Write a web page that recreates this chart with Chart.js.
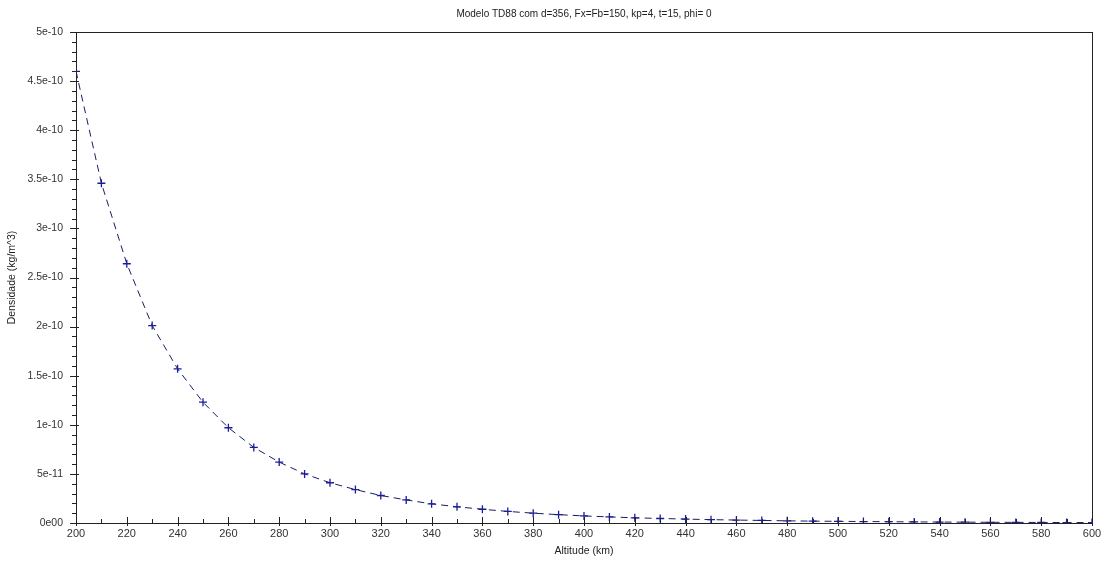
<!DOCTYPE html>
<html>
<head>
<meta charset="utf-8">
<script src="https://cdn.jsdelivr.net/npm/chart.js@4.4.1/dist/chart.umd.min.js"></script>
<style>
html,body{margin:0;padding:0;background:#fff;}
#wrap{width:1106px;height:563px;position:relative;}
</style>
</head>
<body>
<div id="wrap"><canvas id="c" width="1106" height="563"></canvas></div>
<script>
const chartTitle = "Modelo TD88 com d=356, Fx=Fb=150, kp=4, t=15, phi= 0";
const xTitle = "Altitude (km)";
const yTitle = "Densidade (kg/m^3)";
const altitudes = [200,210,220,230,240,250,260,270,280,290,300,310,320,330,340,350,360,370,380,390,400,410,420,430,440,450,460,470,480,490,500,510,520,530,540,550,560,570,580,590,600];
const densities = [4.60e-10,3.46e-10,2.64e-10,2.01e-10,1.57e-10,1.23e-10,0.97e-10,0.77e-10,0.62e-10,0.50e-10,0.41e-10,0.34e-10,0.28e-10,0.235e-10,0.195e-10,0.165e-10,0.14e-10,0.118e-10,0.10e-10,0.085e-10,0.072e-10,0.062e-10,0.053e-10,0.046e-10,0.040e-10,0.034e-10,0.030e-10,0.026e-10,0.022e-10,0.019e-10,0.017e-10,0.015e-10,0.013e-10,0.011e-10,0.0095e-10,0.0083e-10,0.0072e-10,0.0063e-10,0.0055e-10,0.0048e-10,0.0042e-10];
const yTickLabels = ["0e00","5e-11","1e-10","1.5e-10","2e-10","2.5e-10","3e-10","3.5e-10","4e-10","4.5e-10","5e-10"];
const xTickLabels = ["200","220","240","260","280","300","320","340","360","380","400","420","440","460","480","500","520","540","560","580","600"];

const FONT = "'Liberation Sans', Arial, sans-serif";

const framePlugin = {
  id: 'frame',
  afterDraw(chart) {
    const ctx = chart.ctx, a = chart.chartArea;
    const xs = chart.scales.x, ys = chart.scales.y;
    ctx.save();
    ctx.strokeStyle = '#222';
    ctx.lineWidth = 1;
    ctx.strokeRect(Math.round(a.left)+0.5, Math.round(a.top)+0.5, Math.round(a.right-a.left), Math.round(a.bottom-a.top));
    ctx.beginPath();
    for (let v = 200; v <= 600; v += 10) {
      const px = Math.round(xs.getPixelForValue(v)) + 0.5;
      const major = (v % 20 === 0);
      ctx.moveTo(px, Math.round(a.bottom) + (major ? 3 : 0));
      ctx.lineTo(px, Math.round(a.bottom) - (major ? 6 : 4));
    }
    for (let i = 0; i <= 50; i++) {
      const py = Math.round(ys.getPixelForValue(i * 1e-11)) + 0.5;
      const major = (i % 5 === 0);
      ctx.moveTo(Math.round(a.left) - (major ? 6 : 4), py);
      ctx.lineTo(Math.round(a.left) + (major ? 3 : 0), py);
    }
    ctx.stroke();
    ctx.fillStyle = '#222';
    ctx.textAlign = 'center';
    ctx.textBaseline = 'middle';
    ctx.font = '10px ' + FONT;
    ctx.fillText(chartTitle, (a.left + a.right) / 2, 14);
    ctx.font = '10.5px ' + FONT;
    ctx.fillText(xTitle, (a.left + a.right) / 2, 551);
    ctx.translate(12, (a.top + a.bottom) / 2);
    ctx.rotate(-Math.PI / 2);
    ctx.fillText(yTitle, 0, 0);
    ctx.restore();
  }
};

new Chart(document.getElementById('c'), {
  type: 'line',
  data: {
    datasets: [{
      data: altitudes.map((x, i) => ({x: x, y: densities[i]})),
      borderColor: '#1a1a66',
      borderWidth: 1,
      borderDash: [7, 5],
      pointStyle: 'cross',
      pointRadius: 4,
      pointBorderColor: '#1c1c9a',
      pointBorderWidth: 1.3,
      pointBackgroundColor: '#1c1c9a',
      tension: 0,
      fill: false
    }]
  },
  options: {
    responsive: false,
    animation: false,
    devicePixelRatio: 1,
    layout: { padding: { top: 32, right: 14, left: 0, bottom: 0 } },
    plugins: { legend: { display: false }, tooltip: { enabled: false }, title: { display: false } },
    scales: {
      x: {
        type: 'linear', min: 200, max: 600,
        afterFit(s) { s.height = 40; },
        grid: { display: false, drawTicks: false },
        border: { display: false },
        ticks: {
          stepSize: 20, padding: 4, color: '#333', maxRotation: 0, autoSkip: false,
          font: { family: FONT, size: 11 },
          callback: (v, i) => xTickLabels[i]
        }
      },
      y: {
        type: 'linear', min: 0, max: 5e-10,
        afterFit(s) { s.width = 76; },
        grid: { display: false, drawTicks: false },
        border: { display: false },
        ticks: {
          stepSize: 5e-11, padding: 13, color: '#333', autoSkip: false,
          font: { family: FONT, size: 10.5 },
          callback: (v, i) => yTickLabels[i]
        }
      }
    }
  },
  plugins: [framePlugin]
});
</script>
</body>
</html>
